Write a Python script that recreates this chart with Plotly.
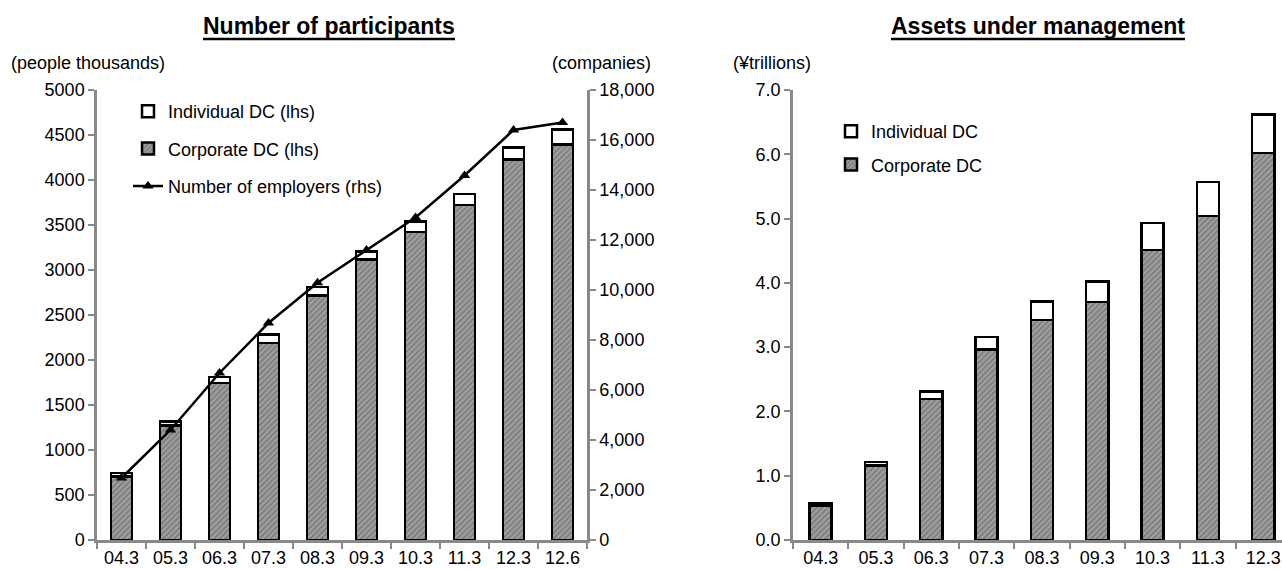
import plotly.graph_objects as go

W, H = 1282, 569

# ---------------- data ----------------
categories_left = ["04.3", "05.3", "06.3", "07.3", "08.3", "09.3", "10.3", "11.3", "12.3", "12.6"]
corporate_participants = [705, 1270, 1745, 2190, 2715, 3115, 3420, 3720, 4230, 4395]
individual_participants = [40, 45, 65, 95, 95, 90, 120, 125, 130, 165]
employers = [2480, 4400, 6680, 8680, 10290, 11600, 12900, 14580, 16400, 16700]

categories_right = ["04.3", "05.3", "06.3", "07.3", "08.3", "09.3", "10.3", "11.3", "12.3"]
corporate_assets = [0.54, 1.16, 2.19, 2.96, 3.42, 3.70, 4.51, 5.04, 6.02]
individual_assets = [0.03, 0.05, 0.12, 0.20, 0.29, 0.32, 0.42, 0.53, 0.60]

left_ticks = list(range(0, 5001, 500))
right_ticks = list(range(0, 18001, 2000))
asset_ticks = [0, 1, 2, 3, 4, 5, 6, 7]

# ---------------- style ----------------
FONT = "Liberation Sans, Arial, sans-serif"
AXIS_GREY = "#898989"
HATCH = dict(shape="/", fgcolor="#555555", bgcolor="#a0a0a0", size=4, solidity=0.45)
TITLE_SIZE = 23


def px_x(p):
    return p / W


def px_y(p):
    return 1 - p / H


fig = go.Figure()

# left chart
fig.add_trace(go.Bar(
    x=categories_left, y=corporate_participants, name="Corporate DC (lhs)",
    xaxis="x", yaxis="y", width=0.43, legend="legend", legendgroup="c", legendrank=2,
    marker=dict(color="#a0a0a0", pattern=HATCH, line=dict(color="black", width=2.5)),
))
fig.add_trace(go.Bar(
    x=categories_left, y=individual_participants, name="Individual DC (lhs)",
    xaxis="x", yaxis="y", width=0.43, legend="legend", legendgroup="i", legendrank=1,
    marker=dict(color="white", line=dict(color="black", width=2.5)),
))
fig.add_trace(go.Scatter(
    x=categories_left, y=employers, name="Number of employers (rhs)",
    xaxis="x", yaxis="y2", mode="lines+markers", legend="legend", legendgroup="e", legendrank=3,
    line=dict(color="black", width=2.5),
    marker=dict(symbol="triangle-up", size=10, color="black"),
))

# right chart
fig.add_trace(go.Bar(
    x=categories_right, y=corporate_assets, name="Corporate DC",
    xaxis="x3", yaxis="y3", width=0.4, legend="legend2", legendgroup="c2", legendrank=2,
    marker=dict(color="#a0a0a0", pattern=HATCH, line=dict(color="black", width=2.5)),
))
fig.add_trace(go.Bar(
    x=categories_right, y=individual_assets, name="Individual DC",
    xaxis="x3", yaxis="y3", width=0.4, legend="legend2", legendgroup="i2", legendrank=1,
    marker=dict(color="white", line=dict(color="black", width=2.5)),
))

ydom = [px_y(540), px_y(90)]
axis_common = dict(
    showline=True, linecolor=AXIS_GREY, linewidth=2.5,
    ticks="outside", ticklen=6, tickwidth=2, tickcolor=AXIS_GREY,
    showgrid=False, zeroline=False, automargin=False,
    tickfont=dict(family=FONT, size=18, color="black"),
)

fig.update_layout(
    width=W, height=H,
    margin=dict(l=0, r=0, t=0, b=0, autoexpand=False),
    paper_bgcolor="white", plot_bgcolor="white",
    barmode="stack", bargap=0.5,
    font=dict(family=FONT, size=18, color="black"),
    xaxis=dict(domain=[px_x(97), px_x(587)], anchor="y", type="category",
               range=[-0.5, 9.5], tickson="boundaries", ticklabelstandoff=0, **axis_common),
    yaxis=dict(domain=ydom, anchor="x", range=[0, 5000], tickvals=left_ticks, **axis_common),
    yaxis2=dict(overlaying="y", side="right", anchor="x", range=[0, 18000],
                tickvals=right_ticks, tickformat=",", **axis_common),
    xaxis3=dict(domain=[px_x(793), 1.0], anchor="y3", type="category",
                range=[-0.5, 8.34], tickson="boundaries", ticklabelstandoff=0, **axis_common),
    yaxis3=dict(domain=ydom, anchor="x3", range=[0, 7], tickvals=asset_ticks,
                tickformat=".1f", **axis_common),
    legend=dict(x=px_x(128), y=px_y(93), xanchor="left", yanchor="top",
                bgcolor="rgba(0,0,0,0)", font=dict(family=FONT, size=18),
                traceorder="grouped", tracegroupgap=11),
    legend2=dict(x=px_x(831), y=px_y(113), xanchor="left", yanchor="top",
                 bgcolor="rgba(0,0,0,0)", font=dict(family=FONT, size=18),
                 traceorder="grouped", tracegroupgap=7),
    showlegend=True,
)

annotations = [
    dict(text="<b>Number of participants</b>", x=px_x(329), y=px_y(26), xanchor="center",
         yanchor="middle", font=dict(family=FONT, size=TITLE_SIZE)),
    dict(text="<b>Assets under management</b>", x=px_x(1038), y=px_y(26), xanchor="center",
         yanchor="middle", font=dict(family=FONT, size=TITLE_SIZE)),
    dict(text="(people thousands)", x=px_x(9), y=px_y(63), xanchor="left", yanchor="middle",
         font=dict(family=FONT, size=18)),
    dict(text="(companies)", x=px_x(653), y=px_y(63), xanchor="right", yanchor="middle",
         font=dict(family=FONT, size=18)),
    dict(text="(¥trillions)", x=px_x(731), y=px_y(63), xanchor="left", yanchor="middle",
         font=dict(family=FONT, size=18)),
]
for a in annotations:
    a.update(xref="paper", yref="paper", showarrow=False)
fig.update_layout(annotations=annotations)

# thick title underlines (decoration under the two bold titles)
underlines = [
    (px_x(329 - 126), px_x(329 + 126)),
    (px_x(1038 - 147), px_x(1038 + 147)),
]
for x0, x1 in underlines:
    fig.add_shape(type="line", xref="paper", yref="paper", x0=x0, x1=x1,
                  y0=px_y(39), y1=px_y(39), line=dict(color="black", width=2.5))

fig.write_html("out.html")
